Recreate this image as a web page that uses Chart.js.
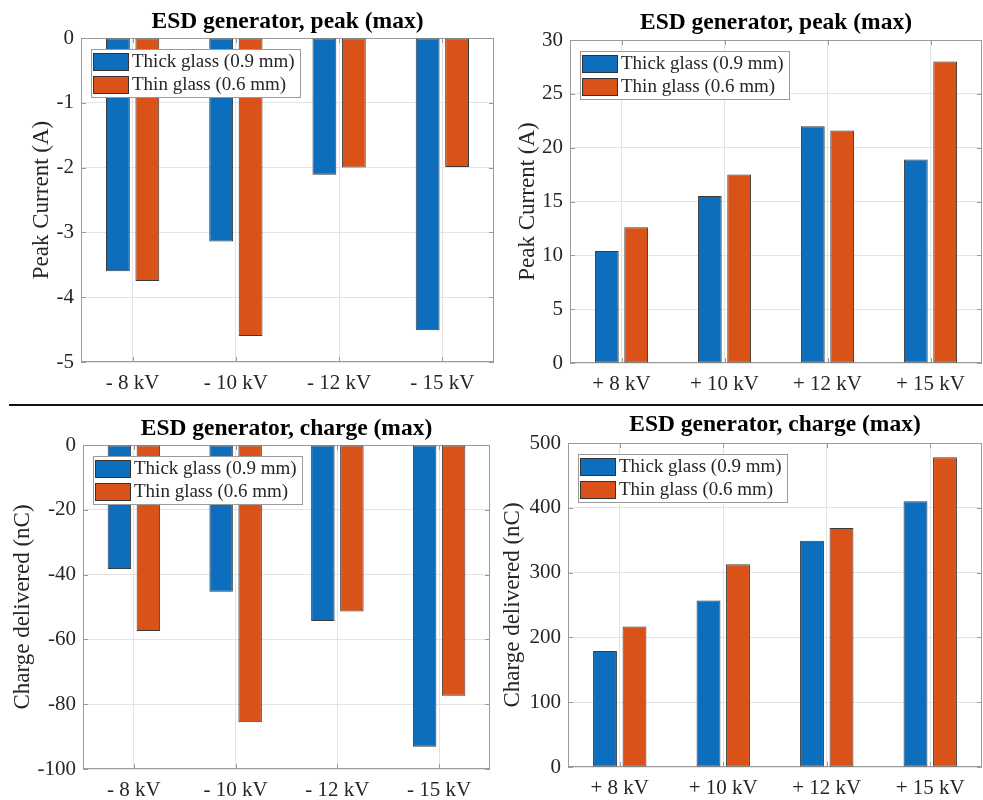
<!DOCTYPE html>
<html>
<head>
<meta charset="utf-8">
<title>ESD generator</title>
<script src="https://cdn.jsdelivr.net/npm/chart.js@4"></script>
<style>
  body { margin: 0; background: #fff; }
  #wrap { position: relative; width: 983px; height: 800px; overflow: hidden; }
  canvas { position: absolute; }
  #sep { position: absolute; left: 9px; top: 404px; width: 974px; height: 0; border-top: 2.5px solid #111; }
</style>
</head>
<body>
<div id="wrap">
  <canvas id="peakNeg" width="496" height="400" style="left:0;top:0"></canvas>
  <canvas id="peakPos" width="487" height="400" style="left:496px;top:0"></canvas>
  <div id="sep"></div>
  <canvas id="chargeNeg" width="496" height="395" style="left:0;top:405px"></canvas>
  <canvas id="chargePos" width="487" height="395" style="left:496px;top:405px"></canvas>
</div>
<script>
// categories
const negLabels = ["- 8 kV", "- 10 kV", "- 12 kV", "- 15 kV"];
const posLabels = ["+ 8 kV", "+ 10 kV", "+ 12 kV", "+ 15 kV"];
const seriesNames = ["Thick glass (0.9 mm)", "Thin glass (0.6 mm)"];

// peak current (A)
const peakNegThick = [-3.6, -3.14, -2.11, -4.51];
const peakNegThin = [-3.75, -4.6, -2.0, -1.99];
const peakPosThick = [10.4, 15.5, 22.0, 18.9];
const peakPosThin = [12.6, 17.5, 21.6, 28.0];

// charge delivered (nC)
const chargeNegThick = [-38.3, -45.3, -54.3, -93.1];
const chargeNegThin = [-57.4, -85.6, -51.4, -77.4];
const chargePosThick = [179, 257, 349, 410];
const chargePosThin = [217, 313, 369, 478];

const serif = "'Liberation Serif', 'Times New Roman', serif";
const blue = "#0D6EBD";
const orange = "#D95319";
const axisGray = "#9a9a9a";
const textGray = "#262626";

// matlab style box, inward ticks and legend in the upper left corner
const matlabAxes = {
  id: "matlabAxes",
  beforeDatasetsDraw(chart) {
    const { ctx, chartArea: a, scales } = chart;
    ctx.save();
    ctx.strokeStyle = axisGray;
    ctx.lineWidth = 1;
    ctx.strokeRect(a.left + 0.5, a.top + 0.5, a.width - 1, a.height - 1);
    ctx.beginPath();
    scales.y.ticks.forEach((t, i) => {
      const y = Math.round(scales.y.getPixelForTick(i)) + 0.5;
      ctx.moveTo(a.left, y); ctx.lineTo(a.left + 5, y);
      ctx.moveTo(a.right, y); ctx.lineTo(a.right - 5, y);
    });
    scales.x.ticks.forEach((t, i) => {
      const x = Math.round(scales.x.getPixelForTick(i)) + 0.5;
      ctx.moveTo(x, a.bottom); ctx.lineTo(x, a.bottom - 5);
      ctx.moveTo(x, a.top); ctx.lineTo(x, a.top + 5);
    });
    ctx.stroke();
    ctx.restore();
  },
  afterDatasetsDraw(chart) {
    const { ctx, chartArea: a } = chart;
    const ds = chart.data.datasets;
    ctx.save();
    ctx.font = "19px " + serif;
    const tw = Math.max(...ds.map(d => ctx.measureText(d.label).width));
    const x = Math.round(a.left) + 10, y = Math.round(a.top) + 11;
    const w = Math.round(41 + tw + 5), h = 48;
    ctx.fillStyle = "#fff";
    ctx.fillRect(x, y, w, h);
    ctx.strokeStyle = axisGray;
    ctx.strokeRect(x + 0.5, y + 0.5, w, h);
    ds.forEach((d, i) => {
      const sy = y + 4 + i * 23;
      ctx.fillStyle = d.backgroundColor;
      ctx.fillRect(x + 2, sy, 35, 17);
      ctx.strokeStyle = "#333";
      ctx.strokeRect(x + 2.5, sy + 0.5, 35, 17);
      ctx.fillStyle = textGray;
      ctx.textBaseline = "middle";
      ctx.fillText(d.label, x + 41, sy + 9);
    });
    ctx.restore();
  }
};

function makeChart(id, title, labels, thick, thin, y, box) {
  return new Chart(document.getElementById(id), {
    type: "bar",
    data: {
      labels: labels,
      datasets: [
        { label: seriesNames[0], data: thick, backgroundColor: blue },
        { label: seriesNames[1], data: thin, backgroundColor: orange }
      ]
    },
    options: {
      responsive: false,
      animation: false,
      layout: { padding: { left: 0, right: box.padRight, top: 0, bottom: 0 } },
      datasets: {
        bar: {
          categoryPercentage: 0.57,
          barPercentage: 0.81,
          borderColor: "#3a3a3a",
          borderWidth: 1,
          borderSkipped: false
        }
      },
      plugins: {
        legend: { display: false },
        tooltip: { enabled: false },
        title: {
          display: true,
          text: title,
          fullSize: false,
          color: "#000",
          font: { family: serif, size: 23.5, weight: "bold", lineHeight: 1.2 },
          padding: { top: box.titleTop, bottom: box.titleBottom }
        }
      },
      scales: {
        x: {
          grid: { offset: false, color: "#e4e4e4", drawTicks: false },
          border: { display: false },
          ticks: { color: textGray, font: { family: serif, size: 21 }, padding: 9, maxRotation: 0 },
          afterFit: s => { s.height = box.xHeight; }
        },
        y: {
          min: y.min,
          max: y.max,
          grid: { color: "#e4e4e4", drawTicks: false },
          border: { display: false },
          ticks: { stepSize: y.step, color: textGray, font: { family: serif, size: 21 }, padding: 7 },
          title: {
            display: true,
            text: y.title,
            color: textGray,
            font: { family: serif, size: 23, lineHeight: 1.2 },
            padding: { top: box.yTitlePad, bottom: 0 }
          },
          afterFit: s => { s.width = box.yWidth; }
        }
      }
    },
    plugins: [matlabAxes]
  });
}

makeChart("peakNeg", "ESD generator, peak (max)", negLabels, peakNegThick, peakNegThin,
  { min: -5, max: 0, step: 1, title: "Peak Current (A)" },
  { yWidth: 81, xHeight: 38, padRight: 2, titleTop: 7.6, titleBottom: 2.2, yTitlePad: 28 });

makeChart("peakPos", "ESD generator, peak (max)", posLabels, peakPosThick, peakPosThin,
  { min: 0, max: 30, step: 5, title: "Peak Current (A)" },
  { yWidth: 74, xHeight: 37, padRight: 1, titleTop: 8.6, titleBottom: 3.2, yTitlePad: 18 });

makeChart("chargeNeg", "ESD generator, charge (max)", negLabels, chargeNegThick, chargeNegThin,
  { min: -100, max: 0, step: 20, title: "Charge delivered (nC)" },
  { yWidth: 83, xHeight: 31, padRight: 6, titleTop: 9.9, titleBottom: 1.9, yTitlePad: 9 });

makeChart("chargePos", "ESD generator, charge (max)", posLabels, chargePosThick, chargePosThin,
  { min: 0, max: 500, step: 100, title: "Charge delivered (nC)" },
  { yWidth: 72, xHeight: 33, padRight: 1, titleTop: 5.9, titleBottom: 3.9, yTitlePad: 3 });
</script>
</body>
</html>
